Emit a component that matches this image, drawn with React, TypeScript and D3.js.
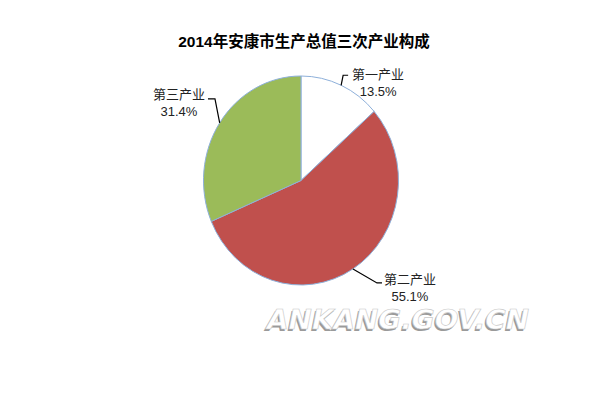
import React from "react";
import * as d3 from "d3";

const title = "2014年安康市生产总值三次产业构成";
const categories = ["第一产业", "第二产业", "第三产业"];
const values = [13.5, 55.1, 31.4];
const valueLabels = ["13.5%", "55.1%", "31.4%"];
const colors = ["#FFFFFF", "#C0504D", "#9BBB59"];
const watermark = "ANKANG.GOV.CN";

// layout (not data)
const W = 600, H = 400;
const cx = 301, cy = 180.5, RX = 97.5, RY = 104.5;
// per-label leader: elbow offset from edge point, horizontal run, text block offset
const leader = [
  { elbow: [2, -10], run: 5, tdx: 30, tdy: 4 },
  { elbow: [24, 14], run: 5, tdx: 28, tdy: 1 },
  { elbow: [-4.7, -24], run: -7, tdx: -29, tdy: 0 },
];

const FONT = "'Liberation Sans', 'Noto Sans CJK SC', sans-serif";

export default function App() {
  const pie = d3.pie<number>().sort(null).value((d) => d)(values);
  const arc = d3.arc<d3.PieArcDatum<number>>().innerRadius(0).outerRadius(RX);

  return (
    <svg width={W} height={H} style={{ display: "block", position: "absolute", left: 0, top: 0 }}>
      <rect width={W} height={H} fill="#fff" />
      <text x={304} y={47} textAnchor="middle" fontFamily={FONT} fontWeight="bold" fontSize={15.5} fill="#000">
        {title}
      </text>
      <g transform={`translate(${cx},${cy}) scale(1,${RY / RX})`}>
        {pie.map((p, i) => (
          <path key={i} d={arc(p) || ""} fill={colors[i]} stroke="#8EB0DA" strokeWidth={1} vectorEffect="non-scaling-stroke" />
        ))}
      </g>
      {pie.map((p, i) => {
        const mid = (p.startAngle + p.endAngle) / 2;
        const ex = cx + RX * Math.sin(mid);
        const ey = cy - RY * Math.cos(mid);
        const L = leader[i];
        const bx = ex + L.elbow[0];
        const by = ey + L.elbow[1];
        const hx = bx + L.run;
        const tx = hx + L.tdx;
        return (
          <g key={i}>
            <polyline points={`${ex},${ey} ${bx},${by} ${hx},${by}`} fill="none" stroke="#000" strokeWidth={1.2} />
            <text x={tx} y={by + L.tdy} textAnchor="middle" fontFamily={FONT} fontSize={13} fill="#222">
              {categories[i]}
            </text>
            <text x={tx} y={by + L.tdy + 17} textAnchor="middle" fontFamily={FONT} fontSize={13} fill="#222">
              {valueLabels[i]}
            </text>
          </g>
        );
      })}
      <g fontFamily="'DejaVu Sans', sans-serif" fontWeight="bold" fontStyle="italic" fontSize={27}>
        <text x={267} y={329} textLength={262} lengthAdjust="spacingAndGlyphs" fill="#9a9a9a" transform="translate(-1.5,1.5)">
          {watermark}
        </text>
        <text x={267} y={329} textLength={262} lengthAdjust="spacingAndGlyphs" fill="#ffffff" stroke="#c8c8c8" strokeWidth={0.6}>
          {watermark}
        </text>
      </g>
    </svg>
  );
}
